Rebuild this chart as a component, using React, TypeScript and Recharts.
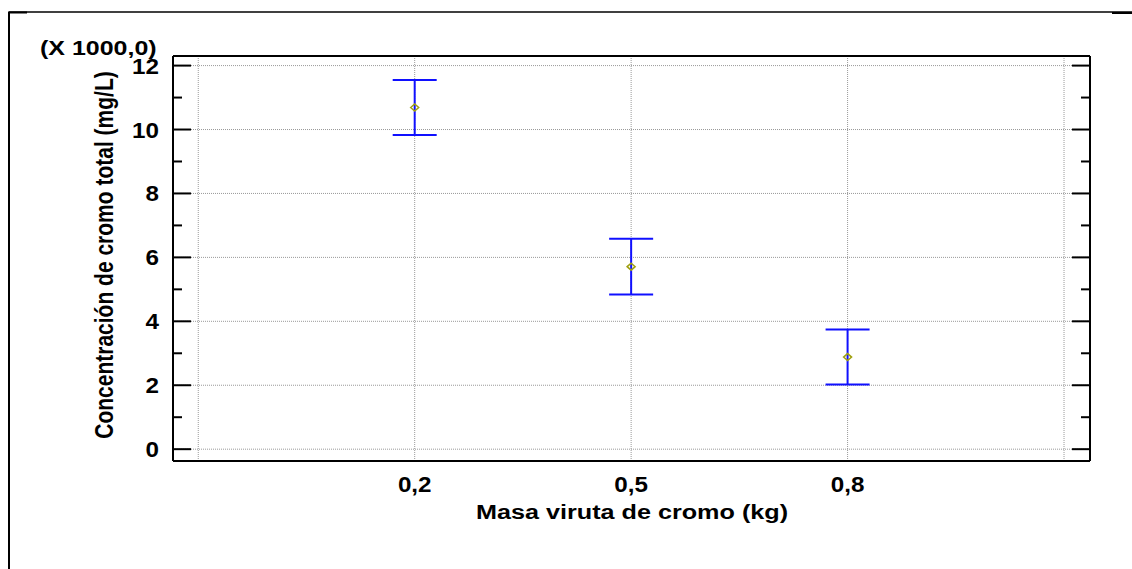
import React from "react";
import {
  ComposedChart,
  Scatter,
  ErrorBar,
  XAxis,
  YAxis,
  CartesianGrid,
} from "recharts";

// Means (x 1000 mg/L) with the half-width of their intervals
const masses = [0.2, 0.5, 0.8];
const meanConc = [10.69, 5.71, 2.88];
const halfInterval = [0.86, 0.87, 0.86];

const xTicks = [-0.1, 0.2, 0.5, 0.8, 1.1];
const xLabelled = [0.2, 0.5, 0.8];
const yMajor = [0, 2, 4, 6, 8, 10, 12];
const yAllTicks = [
  0, 0.5, 1, 1.5, 2, 2.5, 3, 3.5, 4, 4.5, 5, 5.5, 6, 6.5, 7, 7.5, 8, 8.5, 9,
  9.5, 10, 10.5, 11, 11.5, 12,
];

const data = masses.map((m, i) => ({
  masa: m,
  conc: meanConc[i],
  err: halfInterval[i],
}));

const W = 1132;
const H = 569;
const FONT = "Arial, 'Liberation Sans', sans-serif";
const Y_DOMAIN: [number, number] = [-0.37, 12.3];
const X_DOMAIN: [number, number] = [-0.135, 1.136];

const fmt = (v: number) => v.toFixed(1).replace(".", ",");

// left axis: inward tick marks, labels only on even values
function LeftTick(props: any) {
  const { x, y, payload } = props;
  const v = payload.value as number;
  const major = yMajor.includes(v);
  return (
    <g>
      <line x1={x} y1={y} x2={x + (major ? 18 : 9)} y2={y} stroke="#000" strokeWidth={2} />
      {major && (
        <text
          transform={`translate(${x - 14},${y + 8}) scale(1.1,1)`}
          textAnchor="end"
          fontFamily={FONT}
          fontWeight="bold"
          fontSize={22}
          fill="#000"
        >
          {v}
        </text>
      )}
    </g>
  );
}

function RightTick(props: any) {
  const { x, y, payload } = props;
  const major = yMajor.includes(payload.value);
  return (
    <line x1={x} y1={y} x2={x - (major ? 18 : 9)} y2={y} stroke="#000" strokeWidth={2} />
  );
}

function BottomTick(props: any) {
  const { x, y, payload } = props;
  const v = payload.value as number;
  if (!xLabelled.includes(v)) return <g />;
  return (
    <text
      transform={`translate(${x},${y + 31}) scale(1.1,1)`}
      textAnchor="middle"
      fontFamily={FONT}
      fontWeight="bold"
      fontSize={22}
      fill="#000"
    >
      {fmt(v)}
    </text>
  );
}

function Diamond(props: any) {
  const { cx, cy } = props;
  return (
    <polygon
      points={`${cx - 4},${cy} ${cx},${cy - 3.5} ${cx + 4},${cy} ${cx},${cy + 3.5}`}
      fill="none"
      stroke="#a0a010"
      strokeWidth={1.5}
    />
  );
}

export default function App() {
  return (
    <div style={{ position: "absolute", left: 0, top: 0, width: W, height: H, background: "#fff" }}>
      <ComposedChart
        width={W}
        height={H}
        data={data}
        margin={{ top: 55, right: 0, bottom: 68, left: 0 }}
      >
        <CartesianGrid
          xAxisId="bottom"
          yAxisId="grid"
          stroke="#999"
          strokeDasharray="1 1"
        />
        <XAxis
          xAxisId="bottom"
          dataKey="masa"
          type="number"
          domain={X_DOMAIN}
          ticks={xTicks}
          allowDataOverflow
          height={40}
          tickSize={0}
          tickMargin={0}
          tick={<BottomTick />}
          axisLine={{ stroke: "#000", strokeWidth: 2 }}
          tickLine={false}
        />
        <XAxis
          xAxisId="top"
          orientation="top"
          type="number"
          domain={X_DOMAIN}
          allowDataOverflow
          height={1}
          tick={false}
          axisLine={{ stroke: "#000", strokeWidth: 2 }}
          tickLine={false}
        />
        <YAxis
          yAxisId="grid"
          type="number"
          domain={Y_DOMAIN}
          ticks={yMajor}
          allowDataOverflow
          width={0}
          hide
        />
        <YAxis
          yAxisId="left"
          type="number"
          domain={Y_DOMAIN}
          ticks={yAllTicks}
          allowDataOverflow
          width={173}
          tickSize={0}
          tickMargin={0}
          tick={<LeftTick />}
          axisLine={{ stroke: "#000", strokeWidth: 2 }}
          tickLine={false}
        />
        <YAxis
          yAxisId="right"
          orientation="right"
          type="number"
          domain={Y_DOMAIN}
          ticks={yAllTicks}
          allowDataOverflow
          width={42}
          tickSize={0}
          tickMargin={0}
          tick={<RightTick />}
          axisLine={{ stroke: "#000", strokeWidth: 2 }}
          tickLine={false}
        />
        <Scatter
          xAxisId="bottom"
          yAxisId="left"
          dataKey="conc"
          shape={<Diamond />}
          isAnimationActive={false}
        >
          <ErrorBar
            dataKey="err"
            direction="y"
            width={22}
            stroke="#1010ff"
            strokeWidth={2}
            isAnimationActive={false}
          />
        </Scatter>
      </ComposedChart>
      <svg
        width={W}
        height={H}
        style={{ position: "absolute", left: 0, top: 0, pointerEvents: "none" }}
      >
        {/* outer page frame */}
        <line x1={9} y1={12} x2={W} y2={12} stroke="#000" strokeWidth={1.5} />
        <line x1={9} y1={12} x2={9} y2={H} stroke="#000" strokeWidth={2} />
        <line x1={8} y1={12.5} x2={27} y2={12.5} stroke="#000" strokeWidth={2} />
        <line x1={1112} y1={13} x2={W} y2={13} stroke="#000" strokeWidth={2} />
        <text
          transform="translate(40,55) scale(1.19,1)"
          fontFamily={FONT}
          fontWeight="bold"
          fontSize={21}
          fill="#000"
        >
          (X 1000,0)
        </text>
        <text
          transform="translate(113,255) scale(1.2,1) rotate(-90)"
          textAnchor="middle"
          fontFamily={FONT}
          fontWeight="bold"
          fontSize={21}
          fill="#000"
        >
          Concentración de cromo total (mg/L)
        </text>
        <text
          transform="translate(632,519) scale(1.2,1)"
          textAnchor="middle"
          fontFamily={FONT}
          fontWeight="bold"
          fontSize={21}
          fill="#000"
        >
          Masa viruta de cromo (kg)
        </text>
      </svg>
    </div>
  );
}
